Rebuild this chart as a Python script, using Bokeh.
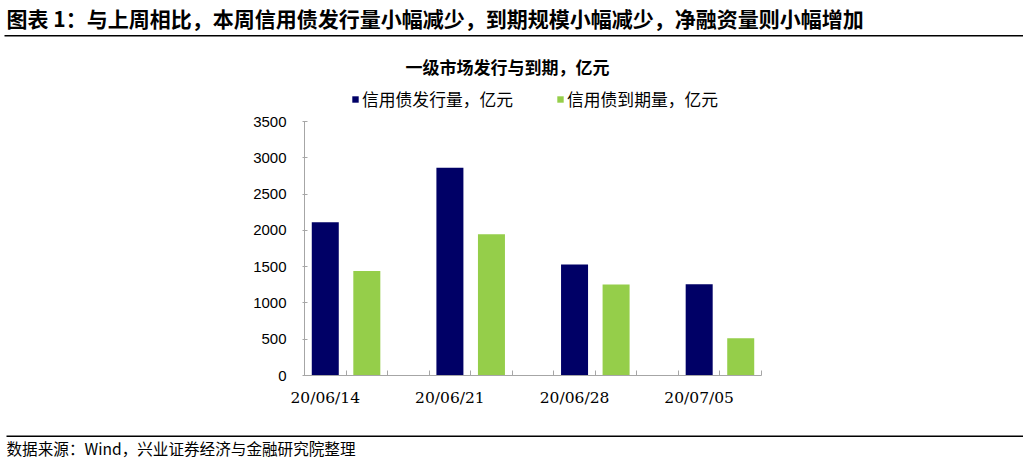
from bokeh.plotting import figure
from bokeh.layouts import column
from bokeh.models import (Label, BoxAnnotation, Legend, LegendItem,
                          FixedTicker, Range1d)
from bokeh.embed import file_html
from bokeh.resources import INLINE

# ---- data ----
dates = ["20/06/14", "20/06/21", "20/06/28", "20/07/05"]
issuance = [2112, 2861, 1530, 1258]
maturity = [1441, 1947, 1254, 514]
y_ticks = [0, 500, 1000, 1500, 2000, 2500, 3000, 3500]
y_max = 3500

main_title = "图表 1：与上周相比，本周信用债发行量小幅减少，到期规模小幅减少，净融资量则小幅增加"
chart_title = "一级市场发行与到期，亿元"
series_names = ["信用债发行量，亿元", "信用债到期量，亿元"]
source_note = "数据来源：Wind，兴业证券经济与金融研究院整理"

NAVY = "#000066"
GREEN = "#95CE4A"
AXIS = "#A6A6A6"
CJK = "Noto Sans CJK SC"

W = 1023
TOP_H = 40
MAIN_H = 384
BOT_H = 40

# each date occupies 3 category slots: issuance, maturity, empty gap
slot = 3
n_slots = slot * len(dates) - 1
x_iss = [slot * i + 0.5 for i in range(len(dates))]
x_mat = [slot * i + 1.5 for i in range(len(dates))]


def blank_fig(h):
    f = figure(width=W, height=h, output_backend="svg", toolbar_location=None,
               x_axis_type=None, y_axis_type=None,
               x_range=Range1d(0, W), y_range=Range1d(0, h),
               min_border=0, min_border_left=0, min_border_right=0,
               min_border_top=0, min_border_bottom=0, frame_align=False)
    f.outline_line_color = None
    f.xgrid.visible = False
    f.ygrid.visible = False
    return f


def rule(f, x0, x1, y0, y1):
    f.add_layout(BoxAnnotation(left=x0, right=x1, top=y1, bottom=y0,
                               left_units="screen", right_units="screen",
                               top_units="screen", bottom_units="screen",
                               fill_color="black", fill_alpha=1, line_color=None))


# ---- header ----
top = blank_fig(TOP_H)
top.add_layout(Label(x=6, y=TOP_H - 17, x_units="screen", y_units="screen",
                     text=main_title, text_baseline="middle", text_align="left",
                     text_font=CJK, text_font_size="21px", text_font_style="bold",
                     text_color="black"))
rule(top, 4, W, TOP_H - 36, TOP_H - 34.5)

# ---- main chart ----
frame_left = 304
frame_bottom_gap = 49          # px below the x axis
frame_h = MAIN_H - frame_bottom_gap
axis_px = 254                  # px between 0 and 3500
slot_px = 457 / n_slots
frame_w = W - frame_left

p = figure(width=W, height=MAIN_H, output_backend="svg", toolbar_location=None,
           x_range=Range1d(0, frame_w / slot_px),
           y_range=Range1d(0, y_max * frame_h / axis_px),
           min_border=0, min_border_left=frame_left, min_border_right=0,
           min_border_top=0, min_border_bottom=frame_bottom_gap,
           frame_align=False)
p.outline_line_color = None
p.xgrid.visible = False
p.ygrid.visible = False

r1 = p.vbar(x=x_iss, top=issuance, width=0.65, fill_color=NAVY, line_color=None)
r2 = p.vbar(x=x_mat, top=maturity, width=0.65, fill_color=GREEN, line_color=None)

# y axis
p.yaxis.bounds = (0, y_max)
p.yaxis.ticker = FixedTicker(ticks=y_ticks)
p.yaxis.axis_line_color = AXIS
p.yaxis.major_tick_line_color = AXIS
p.yaxis.major_tick_in = 3
p.yaxis.major_tick_out = 2
p.yaxis.minor_tick_line_color = None
p.yaxis.major_label_standoff = 16
p.yaxis.major_label_text_font = "Liberation Sans"
p.yaxis.major_label_text_font_size = "15px"
p.yaxis.major_label_text_color = "black"

# x axis
p.xaxis.bounds = (0, n_slots)
p.xaxis.ticker = FixedTicker(ticks=x_iss, minor_ticks=list(range(n_slots + 1)))
p.xaxis.major_label_overrides = {x: d for x, d in zip(x_iss, dates)}
p.xaxis.axis_line_color = AXIS
p.xaxis.major_tick_line_color = None
p.xaxis.major_tick_in = 0
p.xaxis.major_tick_out = 0
p.xaxis.minor_tick_line_color = AXIS
p.xaxis.minor_tick_in = 5
p.xaxis.minor_tick_out = 0
p.xaxis.major_label_standoff = 13
p.xaxis.major_label_text_font = "DejaVu Serif"
p.xaxis.major_label_text_font_size = "15.5px"
p.xaxis.major_label_text_color = "black"

# legend (frame-relative screen position, y = bottom edge)
legend = Legend(items=[LegendItem(label=series_names[0], renderers=[r1]),
                       LegendItem(label=series_names[1], renderers=[r2])],
                orientation="horizontal", location=(47, 264),
                glyph_width=8, glyph_height=8, label_standoff=3,
                label_width=183, spacing=11, padding=0, margin=0,
                border_line_color=None, background_fill_alpha=0,
                label_text_font=CJK, label_text_font_size="16.8px",
                label_text_color="black")
p.add_layout(legend)

p.add_layout(Label(x=203, y=309, x_units="screen", y_units="screen",
                   text=chart_title, text_baseline="middle", text_align="center",
                   text_font=CJK, text_font_size="17px", text_font_style="bold",
                   text_color="black"))

# ---- footer ----
bot = blank_fig(BOT_H)
rule(bot, 6, W, BOT_H - 12.5, BOT_H - 11)
bot.add_layout(Label(x=6, y=BOT_H - 23, x_units="screen", y_units="screen",
                     text=source_note, text_baseline="middle", text_align="left",
                     text_font=CJK, text_font_size="15.6px",
                     text_color="black"))

layout = column(top, p, bot, spacing=0)
open("out.html", "w").write(file_html(layout, INLINE))
